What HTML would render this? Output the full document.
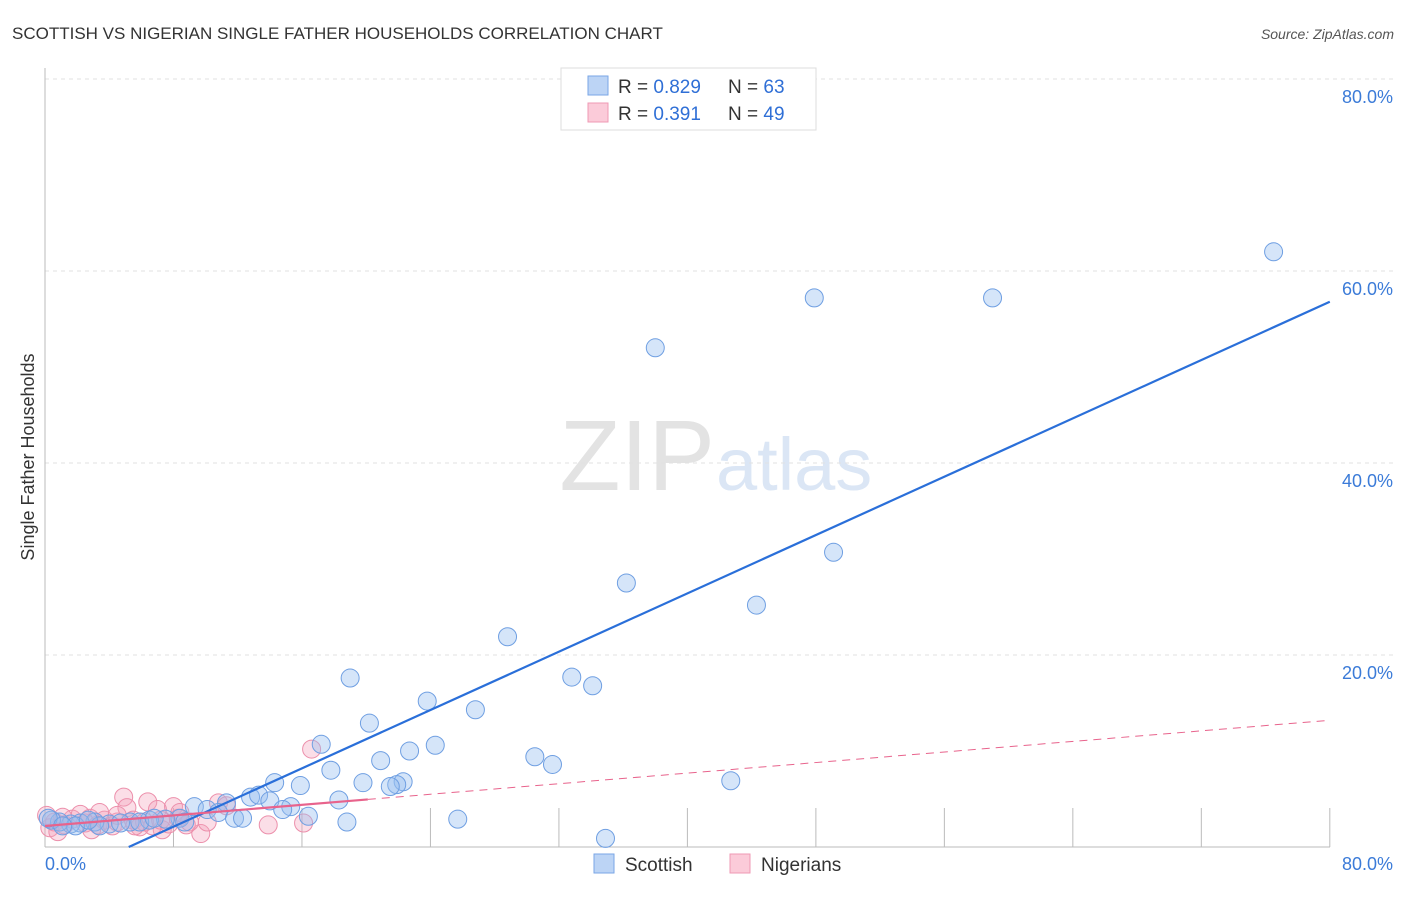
<!DOCTYPE html>
<html><head><meta charset="utf-8"><style>
body{margin:0;background:#fff;font-family:"Liberation Sans",sans-serif}
svg text{font-family:"Liberation Sans",sans-serif}
</style></head><body>
<svg width="1406" height="892">
<text x="12" y="39" font-size="17" fill="#333">SCOTTISH VS NIGERIAN SINGLE FATHER HOUSEHOLDS CORRELATION CHART</text>
<text x="1394" y="39" font-size="14" fill="#555" font-style="italic" text-anchor="end">Source: ZipAtlas.com</text>
<text x="715" y="490" font-size="100" fill="#e3e3e3" text-anchor="end" font-family="Liberation Serif">ZIP</text>
<text x="716" y="490" font-size="74" fill="#dbe6f5">atlas</text>
<g id="grid"></g>
<g id="pts"></g>
<g id="lines"></g>
<text transform="translate(34,457) rotate(-90)" font-size="18" fill="#333" text-anchor="middle">Single Father Households</text>
<text x="45" y="870" font-size="18" fill="#3b7bd8">0.0%</text>
<text x="1393" y="870" font-size="18" fill="#3b7bd8" text-anchor="end">80.0%</text>
<g>
<rect x="561" y="68" width="255" height="62" fill="#fff" stroke="#ddd"/>
<rect x="588" y="76" width="20" height="19" fill="#bcd4f5" stroke="#7aa6e6"/>
<rect x="588" y="103" width="20" height="19" fill="#fbcbd9" stroke="#ef9ab4"/>
<text x="618" y="93" font-size="19" fill="#333">R = <tspan fill="#2f6fd6">0.829</tspan><tspan x="728">N = </tspan><tspan fill="#2f6fd6">63</tspan></text>
<text x="618" y="120" font-size="19" fill="#333">R = <tspan fill="#2f6fd6"> 0.391</tspan><tspan x="728">N = </tspan><tspan fill="#2f6fd6">49</tspan></text>
</g>
<g>
<rect x="594" y="854" width="20" height="19" fill="#bcd4f5" stroke="#7aa6e6"/>
<text x="625" y="871" font-size="19" fill="#333">Scottish</text>
<rect x="730" y="854" width="20" height="19" fill="#fbcbd9" stroke="#ef9ab4"/>
<text x="761" y="871" font-size="19" fill="#333">Nigerians</text>
</g>
</svg>
<script>
const yTicks=[20,40,60,80];
const yTickLabels=["20.0%","40.0%","60.0%","80.0%"];
const xTicks=[8,16,24,32,40,48,56,64,72,80];
const scotX=[76.5,47.9,59.0,38.0,49.1,36.2,44.3,28.8,19.0,32.8,34.1,23.8,26.8,20.2,17.2,24.3,22.7,30.5,31.6,20.9,17.8,42.7,14.3,15.9,22.3,21.9,19.8,21.5,12.8,13.3,11.3,14.0,18.3,9.3,10.1,15.3,14.8,10.8,11.8,12.3,16.4,18.8,25.7,34.9,8.4,7.5,6.5,5.3,4.0,3.1,2.2,1.6,0.9,0.4,0.2,1.9,3.4,4.7,5.9,8.7,6.8,1.1,2.7];
const scotY=[62.0,57.2,57.2,52.0,30.7,27.5,25.2,21.9,17.6,17.7,16.8,15.2,14.3,12.9,10.7,10.6,10.0,9.4,8.6,9.0,8.0,6.9,6.7,6.4,6.8,6.5,6.7,6.3,5.2,5.4,4.6,4.8,4.9,4.2,3.9,4.2,3.9,3.6,3.0,3.0,3.2,2.6,2.9,0.9,3.0,2.9,2.8,2.6,2.4,2.6,2.5,2.4,2.6,2.8,3.0,2.2,2.2,2.5,2.6,2.6,3.0,2.2,2.8];
const nigX=[16.6,4.9,6.4,5.1,8.0,7.0,10.8,11.3,13.9,16.1,8.8,9.7,7.3,0.3,0.6,1.2,1.7,2.5,2.8,3.3,3.7,4.2,4.5,5.5,5.9,6.2,6.7,7.2,7.7,8.3,9.0,0.8,0.1,2.2,4.5,3.4,5.6,10.1,8.4,1.1,2.9];
const nigY=[10.2,5.2,4.7,4.1,4.2,3.9,4.6,4.3,2.3,2.5,2.3,1.4,1.8,2.0,2.6,2.3,2.9,2.5,3.0,2.3,2.8,2.2,2.6,2.8,2.1,2.6,2.2,2.8,2.4,3.0,2.6,1.6,3.3,3.4,3.3,3.6,2.2,2.6,3.6,3.1,1.8];
const scotLine=[-3.96,56.8];
const nigLine=[2.19,13.2];
const nigSolidEnd=20.1;
const NS="http://www.w3.org/2000/svg";
const X=v=>45+v*16.06, Y=v=>847-v*9.6;
function mk(t,a,p){const e=document.createElementNS(NS,t);for(const k in a)e.setAttribute(k,a[k]);p.appendChild(e);return e;}
const g=document.getElementById('grid');
yTicks.forEach((t,i)=>{
 const l=mk('line',{x1:45,x2:1393,y1:Y(t),y2:Y(t),stroke:'#e2e2e2','stroke-dasharray':'4,4'},g);
 
 
 const tx=mk('text',{x:1393,y:Y(t)+24,'font-size':18,fill:'#3b7bd8','text-anchor':'end'},g);
 tx.textContent=yTickLabels[i];
 
 
});
const ax=mk('line',{x1:45,x2:45,y1:68,y2:847,stroke:'#bbb'},g);


const bx=mk('line',{x1:45,x2:1330,y1:847,y2:847,stroke:'#bbb'},g);


xTicks.forEach(t=>{
 const l=mk('line',{x1:X(t),x2:X(t),y1:847,y2:808,stroke:'#bbb'},g);
 
 
});
const p=document.getElementById('pts');
nigX.forEach((x,i)=>{
 const c=mk('circle',{cx:X(x),cy:Y(nigY[i]),r:9,fill:'rgba(244,160,185,0.35)',stroke:'#ec8fab','stroke-width':1},p);
 
 
});
scotX.forEach((x,i)=>{
 const c=mk('circle',{cx:X(x),cy:Y(scotY[i]),r:9,fill:'rgba(150,190,240,0.4)',stroke:'#6f9fe2','stroke-width':1},p);
 
 
});
const L=document.getElementById('lines');
const x0=(0-scotLine[0])/(scotLine[1]-scotLine[0])*80;
const sl=mk('line',{x1:X(x0),y1:Y(0),x2:X(80),y2:Y(scotLine[1]),stroke:'#2a6fd9','stroke-width':2.2},L);


const ny=x=>nigLine[0]+(nigLine[1]-nigLine[0])*x/80;
const n1=mk('line',{x1:X(0),y1:Y(ny(0)),x2:X(nigSolidEnd),y2:Y(ny(nigSolidEnd)),stroke:'#e8638c','stroke-width':2.2},L);


const n2=mk('line',{x1:X(nigSolidEnd),y1:Y(ny(nigSolidEnd)),x2:X(80),y2:Y(ny(80)),stroke:'#e8638c','stroke-width':1,'stroke-dasharray':'8,6'},L);


</script>
</body></html>
